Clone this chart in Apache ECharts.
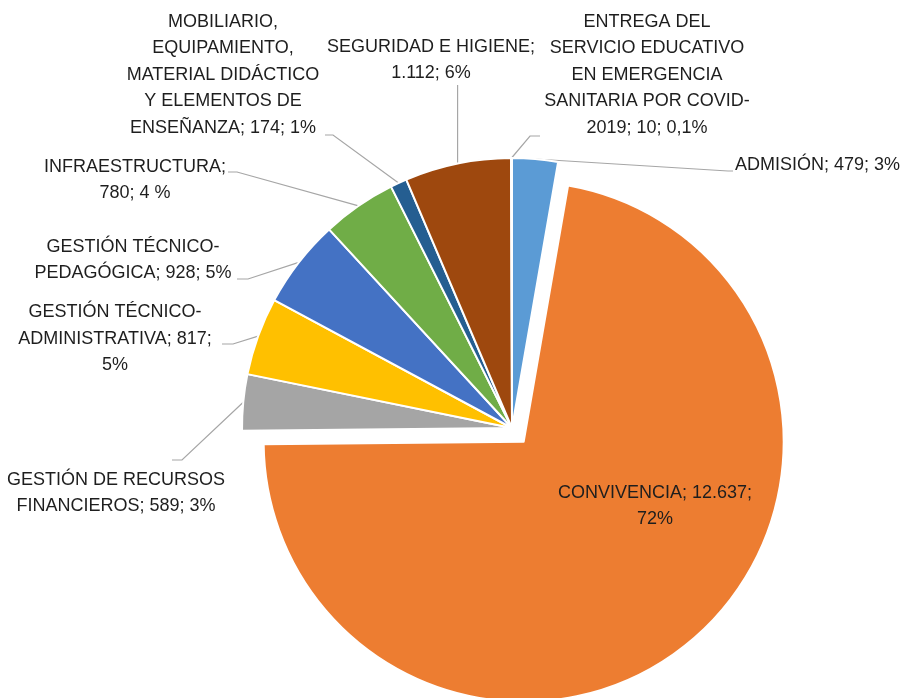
<!DOCTYPE html>
<html>
<head>
<meta charset="utf-8">
<script src="https://cdn.jsdelivr.net/npm/echarts@6/dist/echarts.min.js"></script>
<style>
html, body { margin: 0; padding: 0; background: #fff; }
#chart { width: 913px; height: 698px; }
</style>
</head>
<body>
<div id="chart"></div>
<script>
var categories = [
  'ADMISIÓN',
  'CONVIVENCIA',
  'GESTIÓN DE RECURSOS\nFINANCIEROS',
  'GESTIÓN TÉCNICO-\nADMINISTRATIVA',
  'GESTIÓN TÉCNICO-\nPEDAGÓGICA',
  'INFRAESTRUCTURA',
  'MOBILIARIO,\nEQUIPAMIENTO,\nMATERIAL DIDÁCTICO\nY ELEMENTOS DE\nENSEÑANZA',
  'SEGURIDAD E HIGIENE',
  'ENTREGA DEL\nSERVICIO EDUCATIVO\nEN EMERGENCIA\nSANITARIA POR COVID-\n2019'
]
var values = [479, 12637, 589, 817, 928, 780, 174, 1112, 10]
var percentLabels = ['3%', '72%', '3%', '5%', '5%', '4 %', '1%', '6%', '0,1%']
// what goes after "name;" and after "value;" in each label
var labelSeps = [
  [' ', ' '], [' ', '\n'], [' ', ' '], [' ', '\n'], [' ', ' '],
  ['\n', ' '], [' ', ' '], ['\n', ' '], [' ', ' ']
]
var colors = ['#5B9BD5', '#ED7D31', '#A5A5A5', '#FFC000', '#4472C4', '#70AD47', '#255E91', '#9E480E', '#636363']
var explodedIndex = 1

// where each label sits (text block centre) and how its leader line bends
var labelAt = [[735, 165], [655, 506], [116, 493], [115, 339], [133, 260], [135, 180], [223, 75], [431, 60], [647, 75]]
var lineKnee = [[728, 171], null, [182, 460], [233, 344], [248, 279], [237, 172], [333, 135], null, [530, 136]]
var lineEnd = [[733, 171], null, [172, 460], [222, 344], [237, 279], [228, 172], [325, 135], [null, 85], [540, 136]]

function fmtNum (v) {
  return String(v).replace(/\B(?=(\d{3})+(?!\d))/g, '.')
}

function labelText (p) {
  var i = p.dataIndex
  return categories[i] + ';' + labelSeps[i][0] + fmtNum(values[i]) + ';' + labelSeps[i][1] + percentLabels[i]
}

function placeLabel (params) {
  var i = params.dataIndex
  var out = {
    x: labelAt[i][0],
    y: labelAt[i][1],
    align: i === 0 ? 'left' : 'center',
    verticalAlign: 'middle'
  }
  var p0 = params.labelLinePoints && params.labelLinePoints[0]
  if (p0 && lineEnd[i]) {
    var pts = [p0]
    if (lineKnee[i]) pts.push(lineKnee[i])
    pts.push([lineEnd[i][0] == null ? p0[0] : lineEnd[i][0], lineEnd[i][1]])
    out.labelLinePoints = pts
  }
  return out
}

var hidden = {
  itemStyle: { color: 'rgba(0,0,0,0)', borderWidth: 0 },
  label: { show: false },
  labelLine: { show: false }
}

// main pie: every slice except the exploded one (its label stays here)
var mainData = categories.map(function (name, i) {
  var item = { name: name, value: values[i], itemStyle: { color: colors[i] } }
  if (i === explodedIndex) {
    item.itemStyle = { color: 'rgba(0,0,0,0)', borderWidth: 0 }
    item.labelLine = { show: false }
  }
  return item
})

// exploded slice drawn on its own (Excel draws it a bit smaller)
var explodedData = categories.map(function (name, i) {
  var item = Object.assign({ name: name, value: values[i] }, hidden)
  if (i === explodedIndex) {
    item = {
      name: name,
      value: values[i],
      selected: true,
      itemStyle: { color: colors[i] },
      label: { show: false },
      labelLine: { show: false }
    }
  }
  return item
})

var chart = echarts.init(document.getElementById('chart'))

var option = {
  animation: false,
  series: [
    {
      type: 'pie',
      center: [512, 428],
      radius: 260,
      startAngle: 90,
      clockwise: true,
      avoidLabelOverlap: false,
      selectedMode: 'single',
      selectedOffset: 18,
      silent: true,
      itemStyle: { borderColor: '#fff', borderWidth: 2 },
      select: { itemStyle: { borderColor: '#fff', borderWidth: 2 } },
      emphasis: { disabled: true },
      label: { show: false },
      labelLine: { show: false },
      data: explodedData
    },
    {
      type: 'pie',
      center: [512, 428],
      radius: 270,
      startAngle: 90,
      clockwise: true,
      avoidLabelOverlap: false,
      itemStyle: { borderColor: '#fff', borderWidth: 2 },
      emphasis: { disabled: true },
      label: {
        show: true,
        color: '#1e1e1e',
        fontFamily: 'Liberation Sans',
        fontSize: 18,
        lineHeight: 26.5,
        formatter: labelText
      },
      labelLine: {
        show: true,
        lineStyle: { color: '#A6A6A6', width: 1.2 }
      },
      labelLayout: placeLabel,
      data: mainData
    }
  ]
}

chart.setOption(option)
</script>
</body>
</html>
